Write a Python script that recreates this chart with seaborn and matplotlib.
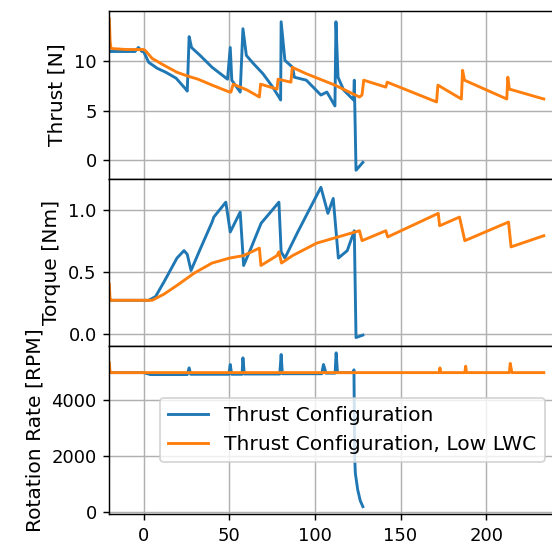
import seaborn as sns
import matplotlib.pyplot as plt

# values (time in s)
t_thrust_cfg = [-20, -12, -5, -3, -1, 0, 3, 8, 13, 19, 24.6, 25.5, 26.6, 28, 33, 40, 49, 50.6, 51.5,
                56.4, 58, 60, 64, 69.7, 75, 79, 80, 80.3, 82.5, 87, 88, 95, 103.5, 107, 111.7, 112.3,
                113.5, 116.8, 122, 122.6, 123, 124, 128]
thrust_cfg = [11.0, 11.0, 11.0, 11.4, 11.0, 11.0, 9.9, 9.3, 8.9, 8.3, 7.2, 7.0, 12.5, 11.4, 10.6, 9.4,
              8.2, 11.4, 8.1, 6.9, 13.3, 10.6, 9.8, 8.75, 7.5, 6.4, 6.1, 14.0, 10.1, 9.4, 8.4, 8.1, 6.6,
              6.9, 5.5, 14.0, 8.4, 7.1, 6.2, 6.1, 8.1, -1.0, -0.2]

t_thrust_low = [-20, -19.5, -19, -10, 0, 1, 5, 12, 19.5, 26, 31.8, 40, 50.2, 51, 52.3, 60.5, 67.6, 68.3,
                77.9, 78.5, 86, 86.8, 95, 111.7, 126, 127.5, 128.5, 141.4, 142.2, 171, 171.8, 185.5,
                186.2, 187.3, 212, 212.6, 213.5, 233.6]
thrust_low = [14.3, 12.0, 11.3, 11.2, 11.2, 11.1, 10.3, 9.6, 8.9, 8.5, 8.2, 7.6, 6.9, 6.9, 7.7, 7.1, 6.4,
              7.7, 7.2, 8.2, 7.9, 9.4, 8.75, 7.6, 6.4, 6.6, 8.1, 7.4, 7.9, 5.9, 7.6, 6.2, 9.1, 8.1, 6.2,
              8.4, 7.2, 6.2]

t_torque_cfg = [-20, 3, 7, 12, 19.5, 23.6, 25.5, 27.7, 33, 40, 41, 48, 50.6, 56.4, 58.4, 63, 68.6, 79,
                80.3, 82.5, 90, 103.5, 107.6, 110.7, 113.7, 118.9, 123, 124, 128]
torque_cfg = [0.27, 0.27, 0.30, 0.42, 0.61, 0.67, 0.64, 0.51, 0.68, 0.90, 0.94, 1.06, 0.82, 0.98, 0.55,
              0.70, 0.89, 1.06, 0.66, 0.61, 0.82, 1.18, 0.97, 1.09, 0.61, 0.67, 0.83, -0.03, -0.01]

t_torque_low = [-20, -19.6, -19, 5, 12, 19.5, 29.7, 40, 50.2, 58.4, 67.6, 68.5, 77.9, 79, 80.5, 87, 101,
                126, 127.5, 141.4, 142.5, 172, 172.8, 184.4, 187.5, 213, 214.5, 233.6]
torque_low = [0.40, 0.29, 0.27, 0.27, 0.32, 0.39, 0.49, 0.57, 0.61, 0.63, 0.69, 0.55, 0.63, 0.66, 0.57,
              0.63, 0.73, 0.83, 0.75, 0.83, 0.78, 0.97, 0.87, 0.94, 0.75, 0.90, 0.70, 0.79]

t_rpm_cfg = [-20, 0, 4, 25.5, 26.6, 27.5, 49.8, 50.6, 51.4, 57.5, 58, 58.8, 79.5, 80.3, 81, 104, 105,
             106.5, 111.8, 112.4, 113.2, 122.5, 122.8, 123.2, 123.6, 125, 126.5, 128]
rpm_cfg = [5000, 5000, 4930, 4930, 5170, 4940, 4940, 5290, 4940, 4940, 5530, 4950, 4950, 5650, 4960,
           4960, 5290, 4980, 4980, 5710, 5000, 5000, 5100, 2000, 1390, 790, 400, 190]

t_rpm_low = [-20, -19.6, -19, 172.5, 173, 173.5, 187.5, 188, 188.5, 213.5, 214, 215, 233.6]
rpm_low = [5350, 5050, 5000, 5000, 5170, 5000, 5000, 5230, 5000, 5000, 5330, 5000, 5000]

label_cfg = "Thrust Configuration"
label_low = "Thrust Configuration, Low LWC"

# 3 stacked panels sharing the time axis
fig, axes = plt.subplots(3, 1, sharex=True, figsize=(552 / 130, 545 / 130), dpi=130)
fig.subplots_adjust(left=0.198, right=1.005, top=0.980, bottom=0.057, hspace=0)

panels = [
    (t_thrust_cfg, thrust_cfg, t_thrust_low, thrust_low, "Thrust [N]", (-1.84, 15.1)),
    (t_torque_cfg, torque_cfg, t_torque_low, torque_low, "Torque [Nm]", (-0.10, 1.25)),
    (t_rpm_cfg, rpm_cfg, t_rpm_low, rpm_low, "Rotation Rate [RPM]", (-72, 5946)),
]

for i, (ax, (tc, yc, tl, yl, ylab, lim)) in enumerate(zip(axes, panels)):
    last = i == len(axes) - 1
    sns.lineplot(x=tc, y=yc, ax=ax, color="tab:blue", linewidth=1.6, estimator=None, sort=False,
                 label=label_cfg if last else None)
    sns.lineplot(x=tl, y=yl, ax=ax, color="tab:orange", linewidth=1.6, estimator=None, sort=False,
                 label=label_low if last else None)
    ax.set_ylabel(ylab, fontsize=11.2)
    ax.set_ylim(*lim)
    ax.grid(True)

axes[0].set_yticks([0, 5, 10])
axes[1].set_yticks([0.0, 0.5, 1.0])
axes[2].set_yticks([0, 2000, 4000])
axes[2].set_xlim(-20, 240)
axes[2].set_xticks([0, 50, 100, 150, 200])
axes[2].legend(loc="center right", fontsize=11.2)

plt.savefig("out.png", dpi=130)
